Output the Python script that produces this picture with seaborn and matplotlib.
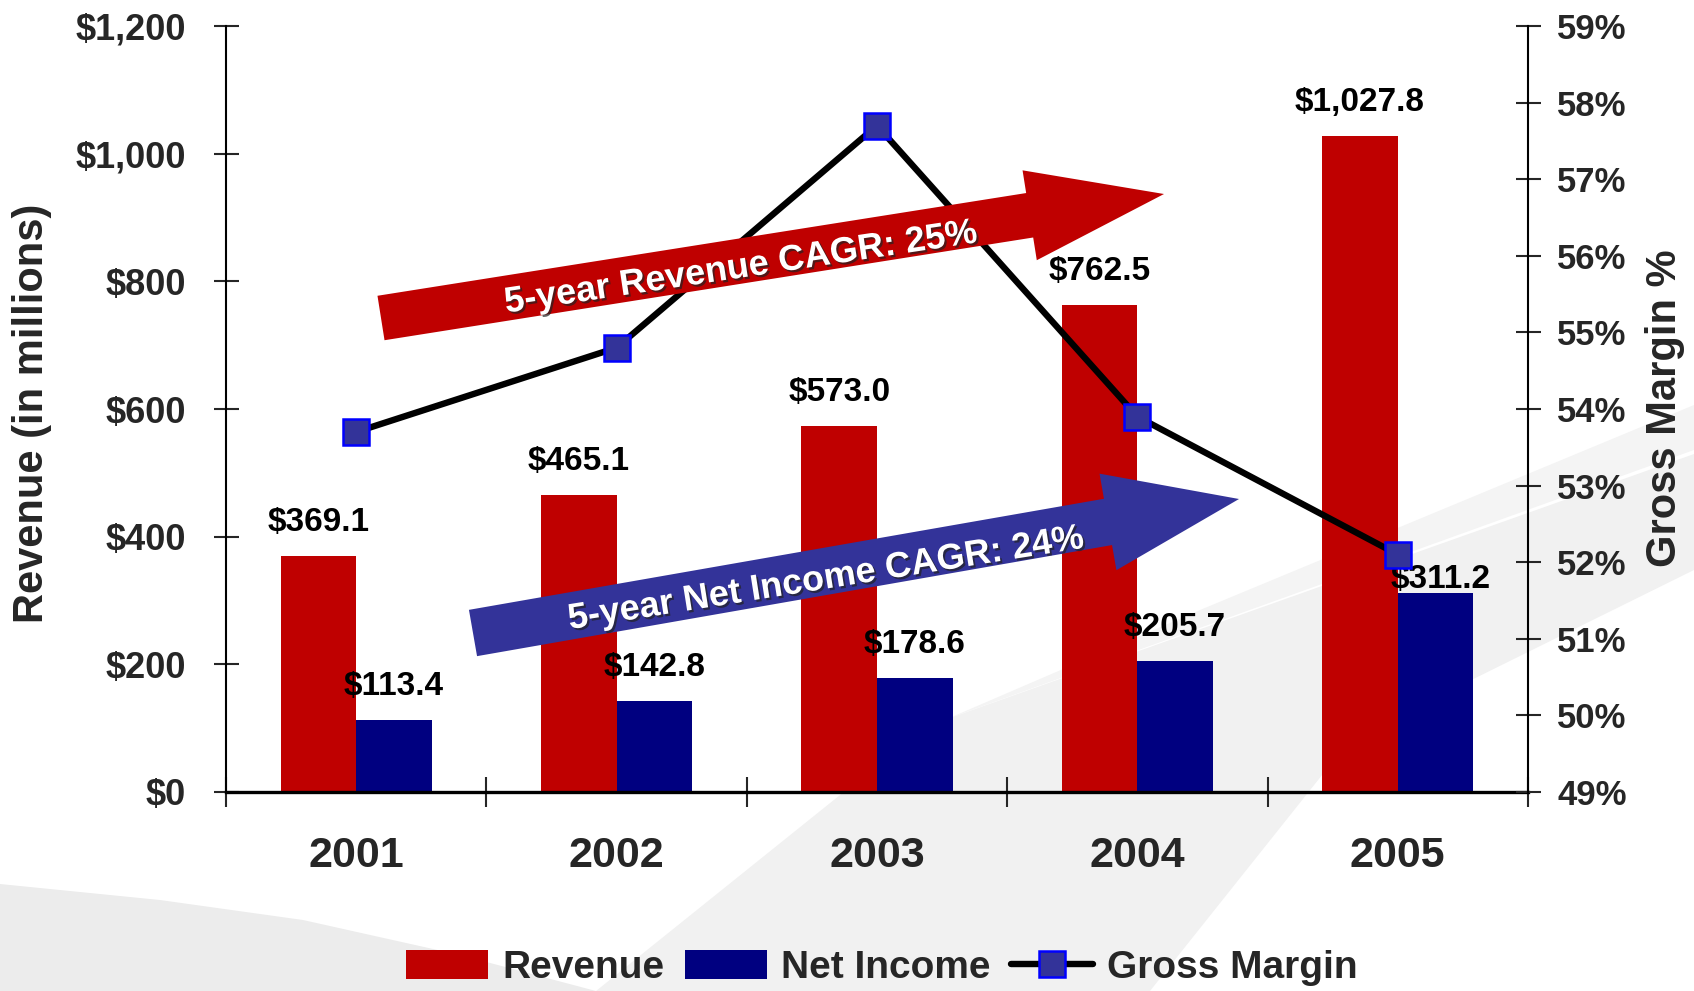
import numpy as np
import pandas as pd
import seaborn as sns
import matplotlib.pyplot as plt
import matplotlib.patches as mpatches
import matplotlib.patheffects as pe
from matplotlib.lines import Line2D
from matplotlib.ticker import FuncFormatter

# -------------------------
# Data
# -------------------------
years = ["2001", "2002", "2003", "2004", "2005"]
revenue = [369.1, 465.1, 573.0, 762.5, 1027.8]
net_income = [113.4, 142.8, 178.6, 205.7, 311.2]
gross_margin = [53.7, 54.8, 57.7, 53.9, 52.1]

series = ["Revenue", "Net Income"]
revenue_cagr = "5-year Revenue CAGR: 25%"
income_cagr = "5-year Net Income CAGR: 24%"

red = "#BF0000"
navy = "#000080"
gm_face = "#333399"
gm_edge = "#0000FF"

df = pd.DataFrame({
    "year": years * 2,
    "series": [series[0]] * len(years) + [series[1]] * len(years),
    "value": revenue + net_income,
})

# -------------------------
# Style
# -------------------------
sns.set_style("white")
plt.rcParams["font.family"] = ["Liberation Sans", "DejaVu Sans"]
plt.rcParams["font.weight"] = "bold"

W, H = 1694, 991
fig = plt.figure(figsize=(W / 100, H / 100), dpi=100)


def px(x, y):
    # pixel position (from top-left) -> figure inches
    return (x / 100, (H - y) / 100)


# background swoosh (decorative)
bg_shapes = [
    ("#ECECEC", [(0, 884), (160, 900), (303, 920), (460, 955), (596, 991), (0, 991)]),
    ("#F1F1F1", [(596, 991), (850, 787), (947, 719), (1694, 454), (1694, 570),
                 (1350, 740), (1150, 991)]),
    ("#F4F4F4", [(947, 719), (1200, 610), (1694, 405), (1694, 450)]),
]
for col, pts in bg_shapes:
    fig.add_artist(mpatches.Polygon([px(*p) for p in pts], closed=True, facecolor=col,
                                    edgecolor="none", transform=fig.dpi_scale_trans,
                                    zorder=-5))

# -------------------------
# Bars
# -------------------------
ax = fig.add_axes([226 / W, 1 - 792 / H, 1302 / W, 766 / H])
ax.set_facecolor("none")

sns.barplot(data=df, x="year", y="value", hue="series", hue_order=series,
            palette=[red, navy], width=0.58, saturation=1, errorbar=None,
            linewidth=0, legend=False, ax=ax)

# value labels above each bar (last net income label sits lower, under the marker)
for k, cont in enumerate(ax.containers):
    for i, bar in enumerate(cont):
        v = cont.datavalues[i]
        dy, dx = 13, 0
        if k == 1 and i == len(years) - 1:
            dy, dx = -1, 4
        ax.annotate(f"${v:,.1f}", (bar.get_x() + bar.get_width() / 2, v),
                    xytext=(dx, dy), textcoords="offset points", ha="center",
                    va="bottom", fontsize=24, fontweight="bold", color="black")

ax.set_xlim(-0.5, len(years) - 0.5)
ax.set_ylim(0, 1200)
ax.set_yticks(np.arange(0, 1201, 200))
ax.yaxis.set_major_formatter(FuncFormatter(lambda v, p: f"${v:,.0f}"))
ax.set_xlabel("")
ax.set_ylabel("")

ax.tick_params(axis="y", direction="inout", length=18, width=1.5, pad=20,
               labelsize=26, left=True)
ax.tick_params(axis="x", which="major", length=0, pad=32, labelsize=31, bottom=True)
ax.set_xticks(np.arange(-0.5, len(years), 1), minor=True)
ax.tick_params(axis="x", which="minor", direction="inout", length=21, width=1.5,
               bottom=True)
for lab in ax.get_xticklabels() + ax.get_yticklabels():
    lab.set_fontweight("bold")

for s in ["top", "right"]:
    ax.spines[s].set_visible(False)
ax.spines["left"].set_linewidth(1.5)
ax.spines["left"].set_color("black")
ax.spines["bottom"].set_linewidth(2.4)
ax.spines["bottom"].set_color("black")

# -------------------------
# Gross margin line
# -------------------------
ax2 = ax.twinx()
ax2.set_facecolor("none")
sns.lineplot(x=np.arange(len(years)), y=gross_margin, ax=ax2, color="black",
             linewidth=4.6, marker="s", markersize=19, markerfacecolor=gm_face,
             markeredgecolor=gm_edge, markeredgewidth=1.8)
ax.set_xlim(-0.5, len(years) - 0.5)
ax2.set_ylim(49, 59)
ax2.set_yticks(np.arange(49, 60, 1))
ax2.yaxis.set_major_formatter(FuncFormatter(lambda v, p: f"{v:.0f}%"))
ax2.set_ylabel("")
ax2.tick_params(axis="y", direction="inout", length=18, width=1.5, pad=12,
                labelsize=25, right=True)
for lab in ax2.get_yticklabels():
    lab.set_fontweight("bold")
for s in ["top", "left", "bottom"]:
    ax2.spines[s].set_visible(False)
ax2.spines["right"].set_linewidth(1.5)
ax2.spines["right"].set_color("black")

# axis titles
fig.text(32 / W, 1 - 413 / H, "Revenue (in millions)", rotation=90, ha="center",
         va="center", fontsize=30, fontweight="bold")
fig.text(1665 / W, 1 - 408 / H, "Gross Margin %", rotation=90, ha="center",
         va="center", fontsize=30, fontweight="bold")

# -------------------------
# CAGR arrows
# -------------------------
shadow = [pe.withSimplePatchShadow(offset=(1.5, -1.5), shadow_rgbFace="#222222",
                                   alpha=0.7)]

t0, t1 = px(381, 318), px(1164, 194)
fig.add_artist(mpatches.FancyArrow(t0[0], t0[1], t1[0] - t0[0], t1[1] - t0[1],
                                   width=0.45, head_width=0.91, head_length=1.36,
                                   length_includes_head=True, facecolor=red,
                                   edgecolor="none", transform=fig.dpi_scale_trans,
                                   zorder=3))
fig.text(741 / W, 1 - 268 / H, revenue_cagr, color="white", fontsize=26,
         fontweight="bold", rotation=8.5, ha="center", va="center",
         rotation_mode="anchor", path_effects=shadow, zorder=4)

b0, b1 = px(473, 633), px(1239, 499)
fig.add_artist(mpatches.FancyArrow(b0[0], b0[1], b1[0] - b0[0], b1[1] - b0[1],
                                   width=0.47, head_width=0.98, head_length=1.33,
                                   length_includes_head=True, facecolor=gm_face,
                                   edgecolor="none", transform=fig.dpi_scale_trans,
                                   zorder=3))
fig.text(826 / W, 1 - 579 / H, income_cagr, color="white", fontsize=26,
         fontweight="bold", rotation=9, ha="center", va="center",
         rotation_mode="anchor", path_effects=shadow, zorder=4)

# -------------------------
# Legend
# -------------------------
handles = [
    mpatches.Patch(facecolor=red, edgecolor="none"),
    mpatches.Patch(facecolor=navy, edgecolor="none"),
    Line2D([0], [0], color="black", linewidth=4.6, marker="s", markersize=19,
           markerfacecolor=gm_face, markeredgecolor=gm_edge, markeredgewidth=1.8),
]
fig.legend(handles, series + ["Gross Margin"], loc="center",
           bbox_to_anchor=(882 / W, 1 - 968 / H), ncol=3, frameon=False,
           prop={"size": 28, "weight": "bold"}, handlelength=2.1,
           handleheight=0.75, handletextpad=0.36, columnspacing=0.54)

fig.savefig("out.png", dpi=100)
